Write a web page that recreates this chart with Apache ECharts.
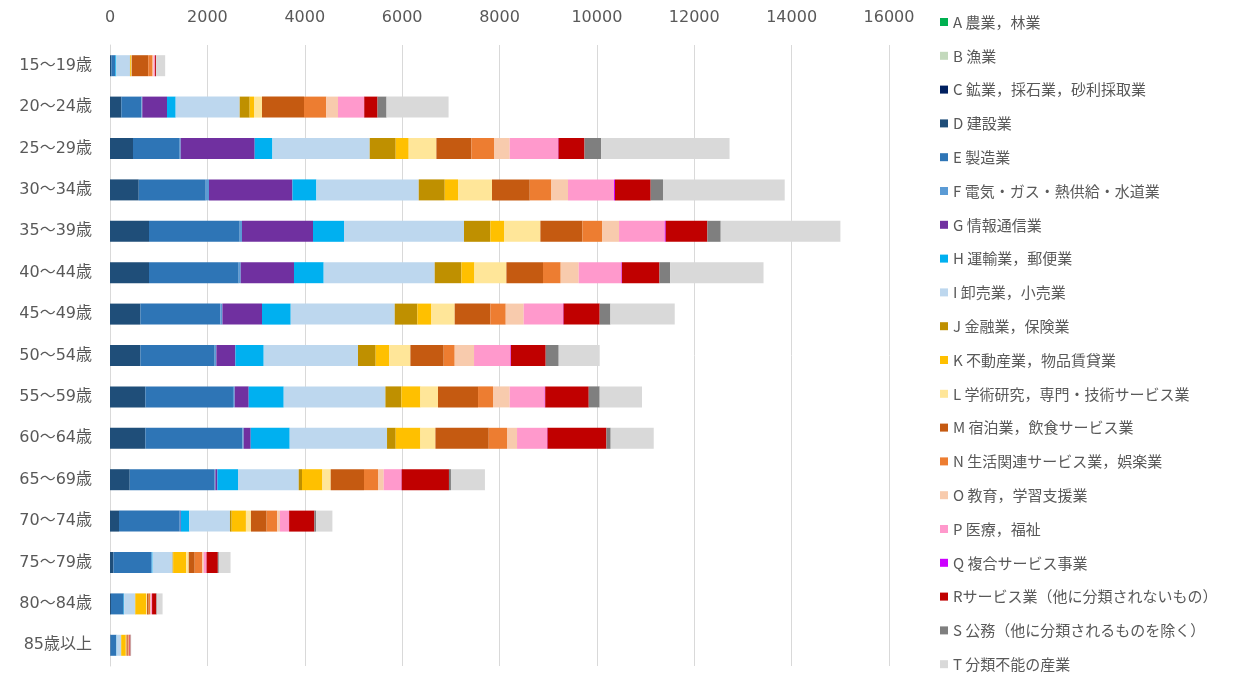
<!DOCTYPE html>
<html>
<head>
<meta charset="utf-8">
<script src="https://cdn.jsdelivr.net/npm/echarts@6/dist/echarts.min.js"></script>
<style>
html,body{margin:0;padding:0;background:#fff;}
#chart{width:1238px;height:677px;}
</style>
</head>
<body>
<div id="chart"></div>
<script>
const categories = ["15～19歳","20～24歳","25～29歳","30～34歳","35～39歳","40～44歳","45～49歳","50～54歳","55～59歳","60～64歳","65～69歳","70～74歳","75～79歳","80～84歳","85歳以上"];
const seriesNames = ["A 農業，林業","B 漁業","C 鉱業，採石業，砂利採取業","D 建設業","E 製造業","F 電気・ガス・熱供給・水道業","G 情報通信業","H 運輸業，郵便業","I 卸売業，小売業","J 金融業，保険業","K 不動産業，物品賃貸業","L 学術研究，専門・技術サービス業","M 宿泊業，飲食サービス業","N 生活関連サービス業，娯楽業","O 教育，学習支援業","P 医療，福祉","Q 複合サービス事業","Rサービス業（他に分類されないもの）","S 公務（他に分類されるものを除く）","T 分類不能の産業"];
const xTicks = {min: 0, max: 16000, interval: 2000};

const A = [0,0,0,0,0,0,0,0,0,0,0,0,0,0,0];
const B = [0,0,0,0,0,0,0,0,0,0,0,0,0,0,0];
const C = [0,0,0,0,0,0,0,0,0,0,0,0,0,0,0];
const D = [27,232,472,590,801,801,624,624,727,727,405,185,70,20,10];
const E = [83,411,960,1376,1863,1842,1644,1526,1799,1993,1745,1247,780,260,120];
const F = [0,20,20,67,47,42,41,35,35,26,15,5,0,0,0];
const G = [0,508,1520,1714,1459,1094,813,391,288,144,41,15,5,0,0];
const H = [20,178,364,492,636,610,590,581,719,801,423,176,20,10,5];
const I = [280,1315,1998,2102,2465,2280,2136,1937,2089,1999,1247,836,412,226,95];
const J = [5,205,534,534,542,549,466,363,328,178,68,35,10,5,0];
const K = [20,89,267,273,280,267,287,274,391,508,419,293,267,220,95];
const L = [10,164,569,698,747,657,479,439,361,308,170,103,53,20,15];
const M = [340,863,719,775,863,752,733,684,822,1095,684,322,123,33,25];
const N = [90,458,464,445,403,363,315,226,308,375,288,218,152,35,20];
const O = [20,240,323,341,349,370,369,397,343,206,117,56,33,10,5];
const P = [28,534,992,945,939,877,808,747,719,616,363,185,56,25,10];
const Q = [0,5,10,20,20,10,10,10,10,10,5,3,2,0,0];
const R = [20,273,534,733,856,772,743,715,894,1210,972,519,232,88,20];
const S = [5,185,343,253,274,220,220,267,225,88,41,35,20,10,5];
const T = [185,1274,2636,2500,2458,1917,1321,842,869,884,698,335,241,118,10];

const allData = [A,B,C,D,E,F,G,H,I,J,K,L,M,N,O,P,Q,R,S,T];
const colors = ["#00B050","#C3D9BC","#002060","#1F4E79","#2E75B6","#5B9BD5","#7030A0","#00B0F0","#BDD7EE","#BF9000","#FFC000","#FFE699","#C55A11","#ED7D31","#F8CBAD","#FF99CC","#CC00FF","#C00000","#7F7F7F","#D9D9D9"];

const font = '"DejaVu Sans", "Noto Sans CJK JP", sans-serif';
const chart = echarts.init(document.getElementById('chart'));
chart.setOption({
  animation: false,
  color: colors,
  textStyle: {fontFamily: font},
  grid: {left: 110, right: 349, top: 45, bottom: 11, containLabel: false},
  legend: {
    orient: 'vertical',
    left: 940,
    top: 14,
    padding: 0,
    icon: 'rect',
    itemWidth: 8,
    itemHeight: 8,
    itemGap: 17.8,
    data: seriesNames,
    textStyle: {fontSize: 15, color: '#595959', lineHeight: 16, fontFamily: '"Noto Sans CJK JP", sans-serif'}
  },
  xAxis: {
    type: 'value',
    position: 'top',
    min: xTicks.min, max: xTicks.max, interval: xTicks.interval,
    axisLine: {show: false},
    axisTick: {show: false},
    axisLabel: {color: '#595959', fontSize: 16, margin: 19, fontFamily: font, formatter: v => String(v)},
    splitLine: {lineStyle: {color: '#D9D9D9', width: 1}}
  },
  yAxis: {
    type: 'category',
    inverse: true,
    data: categories,
    axisLine: {show: true, lineStyle: {color: '#D9D9D9'}},
    axisTick: {show: false},
    axisLabel: {color: '#595959', fontSize: 16, margin: 18, fontFamily: font}
  },
  series: seriesNames.map((n, i) => ({
    name: n,
    type: 'bar',
    stack: 'total',
    barWidth: 21,
    data: allData[i]
  }))
});
</script>
</body>
</html>
